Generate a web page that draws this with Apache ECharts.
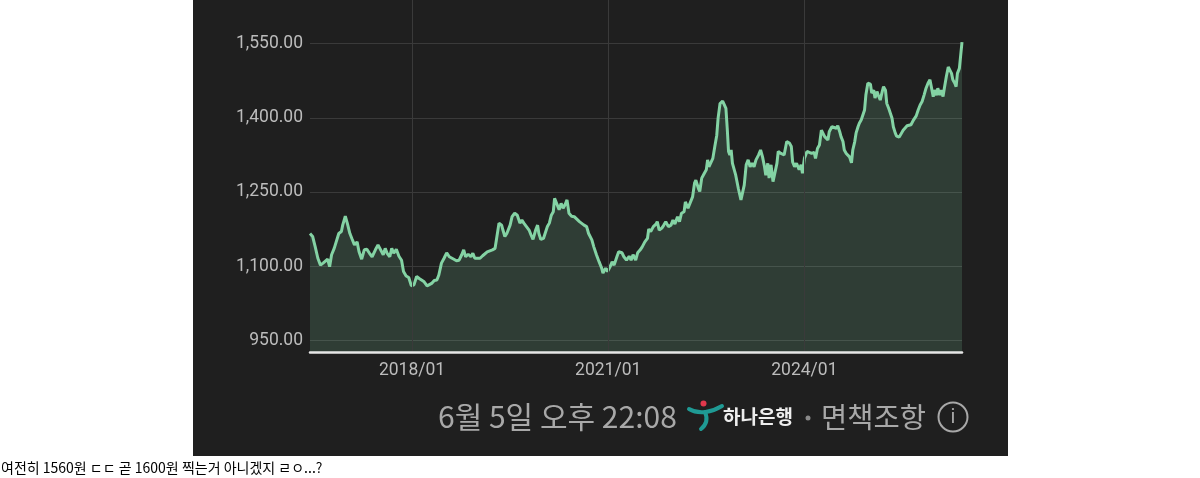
<!DOCTYPE html>
<html lang="ko">
<head>
<meta charset="UTF-8">
<title>USD/KRW</title>
<script src="https://cdn.jsdelivr.net/npm/echarts@6/dist/echarts.min.js"></script>
<style>
  html, body { margin: 0; padding: 0; background: #fff; }
  #chart { width: 1200px; height: 478px; }
</style>
</head>
<body>
<div id="chart"></div>
<script>
// decimal year / 원 per dollar
const years = [
  2016.44, 2016.48, 2016.52, 2016.56, 2016.60, 2016.64, 2016.67, 2016.71, 2016.74, 2016.77,
  2016.81, 2016.84, 2016.88, 2016.92, 2016.94, 2016.98, 2017.01, 2017.05, 2017.08, 2017.12,
  2017.16, 2017.19, 2017.23, 2017.27, 2017.31, 2017.35, 2017.39, 2017.44, 2017.48, 2017.51,
  2017.56, 2017.59, 2017.62, 2017.66, 2017.69, 2017.72, 2017.76, 2017.80, 2017.84, 2017.87,
  2017.91, 2017.95, 2017.99, 2018.03, 2018.07, 2018.11, 2018.14, 2018.18, 2018.23, 2018.26,
  2018.30, 2018.34, 2018.38, 2018.41, 2018.45, 2018.49, 2018.53, 2018.57, 2018.60, 2018.64,
  2018.68, 2018.72, 2018.76, 2018.79, 2018.82, 2018.86, 2018.90, 2018.93, 2018.96, 2018.99,
  2019.04, 2019.08, 2019.11, 2019.15, 2019.19, 2019.23, 2019.27, 2019.29, 2019.33, 2019.37,
  2019.39, 2019.42, 2019.45, 2019.50, 2019.53, 2019.57, 2019.61, 2019.65, 2019.68, 2019.71,
  2019.75, 2019.79, 2019.82, 2019.85, 2019.89, 2019.92, 2019.94, 2019.97, 2020.01, 2020.04,
  2020.07, 2020.10, 2020.13, 2020.16, 2020.18, 2020.22, 2020.25, 2020.28, 2020.31, 2020.34,
  2020.37, 2020.40, 2020.44, 2020.48, 2020.52, 2020.56, 2020.59, 2020.63, 2020.67, 2020.70,
  2020.75, 2020.78, 2020.82, 2020.86, 2020.90, 2020.92, 2020.96, 2020.99, 2021.03, 2021.06,
  2021.09, 2021.13, 2021.16, 2021.21, 2021.24, 2021.28, 2021.32, 2021.35, 2021.38, 2021.42,
  2021.45, 2021.49, 2021.52, 2021.56, 2021.60, 2021.62, 2021.65, 2021.69, 2021.73, 2021.75,
  2021.78, 2021.82, 2021.85, 2021.88, 2021.92, 2021.96, 2021.99, 2022.02, 2022.06, 2022.09,
  2022.12, 2022.16, 2022.18, 2022.22, 2022.25, 2022.29, 2022.32, 2022.34, 2022.38, 2022.40,
  2022.43, 2022.47, 2022.50, 2022.52, 2022.54, 2022.57, 2022.60, 2022.63, 2022.66, 2022.68,
  2022.71, 2022.75, 2022.78, 2022.80, 2022.82, 2022.84, 2022.86, 2022.88, 2022.90, 2022.93,
  2022.95, 2022.99, 2023.03, 2023.06, 2023.08, 2023.11, 2023.14, 2023.17, 2023.20, 2023.23,
  2023.26, 2023.30, 2023.33, 2023.36, 2023.39, 2023.41, 2023.44, 2023.46, 2023.49, 2023.52,
  2023.54, 2023.58, 2023.60, 2023.64, 2023.67, 2023.69, 2023.73, 2023.77, 2023.80, 2023.82,
  2023.85, 2023.88, 2023.92, 2023.95, 2023.97, 2024.00, 2024.04, 2024.07, 2024.11, 2024.15,
  2024.17, 2024.20, 2024.23, 2024.26, 2024.28, 2024.31, 2024.33, 2024.36, 2024.38, 2024.42,
  2024.45, 2024.49, 2024.51, 2024.54, 2024.56, 2024.59, 2024.61, 2024.64, 2024.66, 2024.69,
  2024.72, 2024.74, 2024.77, 2024.79, 2024.82, 2024.84, 2024.87, 2024.89, 2024.92, 2024.94,
  2024.97, 2025.01, 2025.03, 2025.06, 2025.08, 2025.11, 2025.13, 2025.16, 2025.19, 2025.21,
  2025.24, 2025.26, 2025.29, 2025.31, 2025.34, 2025.36, 2025.39, 2025.41, 2025.45, 2025.48,
  2025.51, 2025.54, 2025.57, 2025.60, 2025.63, 2025.67, 2025.71, 2025.74, 2025.77, 2025.80,
  2025.83, 2025.86, 2025.89, 2025.92, 2025.95, 2025.97, 2025.99, 2026.02, 2026.04, 2026.07,
  2026.09, 2026.12, 2026.14, 2026.17, 2026.20, 2026.22, 2026.25, 2026.27, 2026.30, 2026.32,
  2026.34, 2026.37, 2026.39, 2026.41
];
const rates = [
  1166, 1160, 1139, 1116, 1102, 1106, 1109, 1114, 1099, 1123,
  1136, 1139, 1166, 1170, 1183, 1201, 1187, 1166, 1156, 1143,
  1149, 1129, 1114, 1133, 1134, 1126, 1119, 1133, 1143, 1146,
  1123, 1136, 1126, 1119, 1136, 1126, 1134, 1120, 1112, 1089,
  1080, 1077, 1060, 1062, 1079, 1075, 1072, 1069, 1060, 1064,
  1065, 1071, 1072, 1082, 1106, 1116, 1127, 1119, 1118, 1114,
  1111, 1112, 1123, 1133, 1119, 1124, 1119, 1126, 1116, 1118,
  1116, 1121, 1125, 1129, 1131, 1133, 1136, 1153, 1187, 1183,
  1173, 1160, 1166, 1183, 1200, 1207, 1203, 1187, 1193, 1187,
  1180, 1173, 1163, 1154, 1173, 1183, 1166, 1154, 1156, 1156,
  1180, 1187, 1203, 1210, 1237, 1224, 1214, 1227, 1217, 1224,
  1234, 1207, 1201, 1200, 1195, 1190, 1190, 1183, 1180, 1166,
  1153, 1139, 1123, 1109, 1096, 1086, 1096, 1089, 1099, 1109,
  1102, 1118, 1129, 1127, 1119, 1112, 1120, 1112, 1123, 1112,
  1127, 1133, 1139, 1149, 1156, 1175, 1170, 1180, 1185, 1190,
  1173, 1177, 1183, 1190, 1180, 1183, 1193, 1185, 1200, 1190,
  1207, 1210, 1230, 1217, 1220, 1240, 1268, 1274, 1257, 1251,
  1278, 1288, 1295, 1315, 1301, 1299, 1318, 1342, 1365, 1399,
  1429, 1434, 1436, 1419, 1379, 1332, 1325, 1335, 1308, 1305,
  1284, 1257, 1234, 1237, 1264, 1305, 1315, 1301, 1308, 1301,
  1315, 1325, 1335, 1321, 1301, 1284, 1308, 1278, 1305, 1271,
  1274, 1308, 1332, 1328, 1332, 1325, 1352, 1349, 1342, 1311,
  1301, 1308, 1295, 1305, 1288, 1318, 1332, 1332, 1328, 1330,
  1318, 1338, 1345, 1375, 1379, 1362, 1365, 1355, 1372, 1382,
  1386, 1379, 1384, 1372, 1362, 1352, 1335, 1328, 1332, 1321,
  1309, 1335, 1352, 1369, 1382, 1389, 1396, 1397, 1416, 1446,
  1470, 1468, 1450, 1456, 1440, 1453, 1446, 1436, 1453, 1463,
  1456, 1429, 1419, 1423, 1399, 1382, 1369, 1363, 1361, 1363,
  1375, 1379, 1384, 1382, 1386, 1396, 1404, 1416, 1426, 1433,
  1446, 1460, 1470, 1477, 1473, 1443, 1456, 1446, 1460, 1446,
  1456, 1443, 1460, 1483, 1503, 1507, 1490, 1477, 1470, 1463,
  1490, 1500, 1503, 1553
];
const yTicks = [950, 1100, 1250, 1400, 1550];
const xTicks = [2018, 2021, 2024];

const stamp = '6월 5일 오후 22:08';
const bankName = '하나은행';
const disclaimer = '면책조항';
const caption = '여전히 1560원 ㄷㄷ 곧 1600원 찍는거 아니겠지 ㄹㅇ...?';

const points = years.map((y, i) => [y, rates[i]]);

const grey = '#bcbcbc';
const gridColor = '#3a3a3a';
const teal = '#1f9a94';

const chart = echarts.init(document.getElementById('chart'));
const option = {
  animation: false,
  backgroundColor: '#ffffff',
  grid: { left: 310, right: 238, top: 0, bottom: 126, outerBoundsMode: 'none' },
  xAxis: {
    type: 'value',
    min: 2016.44,
    max: 2026.41,
    z: 5,
    axisLine: { show: true, onZero: false, lineStyle: { color: '#e6e6e6', width: 2.5 } },
    axisTick: { show: false, customValues: xTicks },
    axisLabel: {
      customValues: xTicks,
      formatter: v => Math.round(v) + '/01',
      color: grey, fontSize: 17.5, fontFamily: 'Roboto', margin: 10
    },
    splitLine: { show: true, lineStyle: { color: gridColor, width: 1 } }
  },
  yAxis: {
    type: 'value',
    min: 926.3,
    max: 1638.4,
    axisLine: { show: false },
    axisTick: { show: false, customValues: yTicks },
    axisLabel: {
      customValues: yTicks,
      formatter: v => v.toLocaleString('en-US', { minimumFractionDigits: 2, maximumFractionDigits: 2 }),
      color: grey, fontSize: 17.5, fontFamily: 'Roboto', margin: 7
    },
    splitLine: { show: true, lineStyle: { color: gridColor, width: 1 } }
  },
  series: [{
    type: 'line',
    data: points,
    showSymbol: false,
    z: 2,
    lineStyle: { color: '#84d3a4', width: 3 },
    areaStyle: { color: 'rgba(132, 211, 164, 0.24)', origin: 'start' }
  }],
  graphic: [
    // dark card behind the chart
    { type: 'rect', z: -10, silent: true, shape: { x: 193, y: 0, width: 815, height: 456 }, style: { fill: '#1f1f1f' } },
    { type: 'text', z: 10, x: 438, y: 417, style: { text: stamp, fill: '#a8a8a8', font: '30px "Noto Sans CJK KR"', textVerticalAlign: 'middle' } },
    // bank mark
    { type: 'bezierCurve', z: 10, shape: { x1: 689, y1: 409, cpx1: 699, cpy1: 415, cpx2: 712, cpy2: 412, x2: 722, y2: 406 }, style: { stroke: teal, lineWidth: 4, fill: null, lineCap: 'round' } },
    { type: 'bezierCurve', z: 10, shape: { x1: 705, y1: 412, cpx1: 708, cpy1: 419, cpx2: 706, cpy2: 425, x2: 701, y2: 429 }, style: { stroke: teal, lineWidth: 4, fill: null, lineCap: 'round' } },
    { type: 'circle', z: 10, shape: { cx: 703.5, cy: 403.5, r: 3 }, style: { fill: '#e0384c' } },
    { type: 'text', z: 10, x: 723, y: 417, style: { text: bankName, fill: '#eeeeee', font: 'bold 19px "Noto Sans CJK KR"', textVerticalAlign: 'middle' } },
    { type: 'circle', z: 10, shape: { cx: 808, cy: 418, r: 2.5 }, style: { fill: '#8a8a8a' } },
    { type: 'text', z: 10, x: 821, y: 417, style: { text: disclaimer, fill: '#a8a8a8', font: '28.5px "Noto Sans CJK KR"', textVerticalAlign: 'middle' } },
    { type: 'circle', z: 10, shape: { cx: 953, cy: 417, r: 14.5 }, style: { fill: null, stroke: '#a8a8a8', lineWidth: 2 } },
    { type: 'text', z: 10, x: 953, y: 418, style: { text: 'i', fill: '#a8a8a8', font: '20px Roboto', textAlign: 'center', textVerticalAlign: 'middle' } },
    // caption under the screenshot
    { type: 'text', z: 10, x: 1, y: 468, style: { text: caption, fill: '#000000', font: '14px "Noto Sans CJK KR"', textVerticalAlign: 'middle' } }
  ]
};
chart.setOption(option);
window.addEventListener('resize', () => chart.resize());
</script>
</body>
</html>
